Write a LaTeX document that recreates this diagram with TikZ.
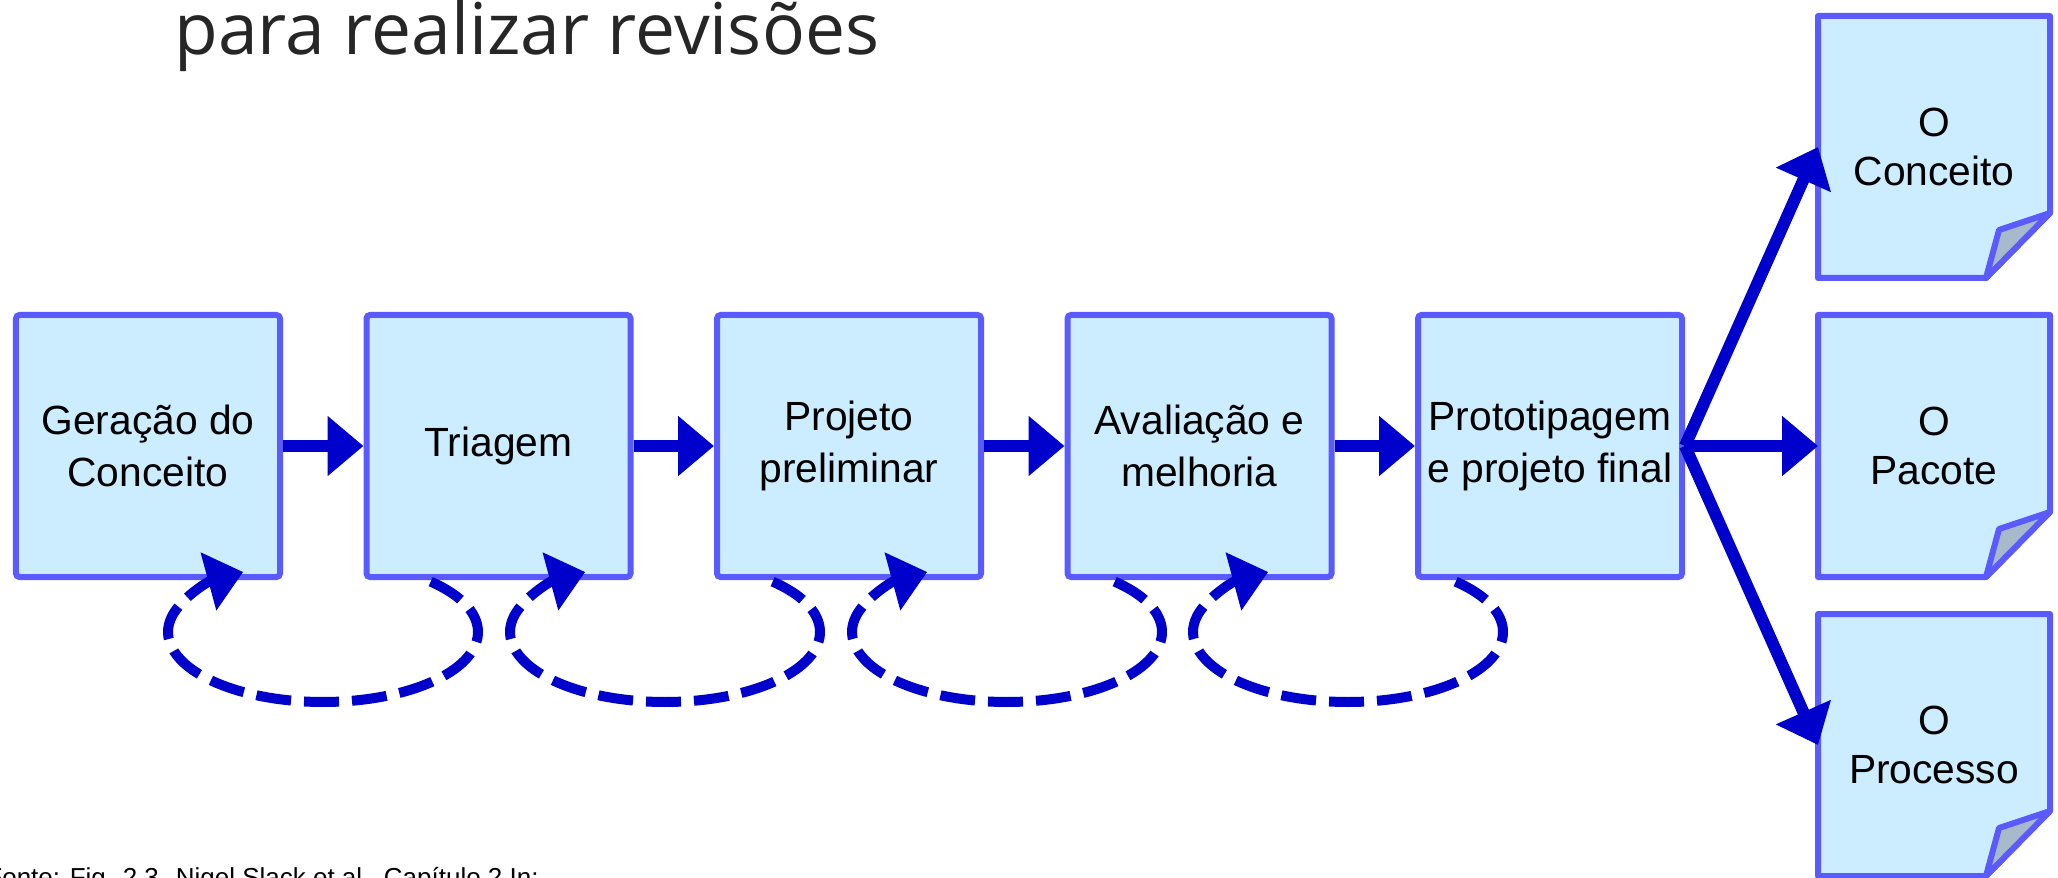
\documentclass[tikz,border=0pt]{standalone}
\usepackage{fontspec}
\setmainfont{Liberation Sans}
\newfontfamily\titlefont{Open Sans}
\usetikzlibrary{positioning,calc,arrows.meta,backgrounds}

\definecolor{boxfill}{RGB}{204,236,255}
\definecolor{boxline}{RGB}{90,90,255}
\definecolor{arrowblue}{RGB}{0,0,204}
\definecolor{foldgray}{RGB}{166,186,204}
\definecolor{titlegray}{RGB}{38,38,38}

\begin{document}
\begin{tikzpicture}[
  stage/.style={draw=boxline, fill=boxfill, line width=0.06cm, minimum width=2.64cm,
    minimum height=2.62cm, inner sep=0pt, align=center, rounded corners=1pt,
    font=\fontsize{11.6}{14.8}\selectfont},
  doc/.style={minimum width=2.32cm, minimum height=2.62cm, inner sep=0pt, outer sep=0pt,
    align=center, font=\fontsize{11.6}{14}\selectfont},
  docline/.style={draw=boxline, fill=boxfill, line width=0.06cm, line join=round},
  flow/.style={draw=arrowblue, line width=0.12cm, -{Triangle[length=0.36cm,width=0.58cm]}},
  redo/.style={flow, line width=0.1cm, dash pattern=on 0.35cm off 0.13cm}
]
  \def\gap{0.805cm} % space between two stages
  \def\rx{1.55} % loop radii
  \def\ry{0.7}
  \useasboundingbox (0,0) rectangle (20.58,-8.78);

  % title
  \node[anchor=base west, text=titlegray, font=\titlefont\fontsize{20.3}{24}\selectfont]
    (title) at (1.62,-0.55) {para realizar revisões};

  % the five stages
  \node[stage] (gen) at (1.48,-4.46) {Geração do\\Conceito};
  \node[stage, right=\gap of gen] (tri) {Triagem};
  \node[stage, right=\gap of tri] (pre) {Projeto\\preliminar};
  \node[stage, right=\gap of pre] (ava) {Avaliação e\\melhoria};
  \node[stage, right=\gap of ava] (pro) {Prototipagem\\e projeto final};

  % the three outputs
  \node[doc, right=1.33cm of pro] (pac) {O\\Pacote};
  \node[doc, above=0.37cm of pac] (con) {O\\Conceito};
  \node[doc, below=0.37cm of pac] (prc) {O\\Processo};
  \begin{pgfonlayer}{background}
    \foreach \d in {con,pac,prc} {
      \filldraw[docline] (\d.north west) -- (\d.north east) -- ([yshift=0.65cm]\d.south east)
        -- ([xshift=-0.64cm]\d.south east) -- (\d.south west) -- cycle;
      \filldraw[docline, fill=foldgray] ([yshift=0.65cm]\d.south east)
        -- ([xshift=-0.51cm,yshift=0.48cm]\d.south east) -- ([xshift=-0.64cm]\d.south east) -- cycle;
    }
  \end{pgfonlayer}

  % forward flow
  \foreach \a/\b in {gen/tri,tri/pre,pre/ava,ava/pro}
    \draw[flow] (\a) -- (\b);
  \foreach \d in {con,pac,prc}
    \draw[flow] (pro.east) -- (\d.west);

  % revision loops
  \foreach \x [count=\i] in {3.23,6.65,10.07,13.48} {
    \coordinate (c\i) at (\x,-6.32);
    \draw[redo] ($(c\i)+(46:\rx cm and \ry cm)$)
      arc[start angle=46, end angle=-239, x radius=\rx cm, y radius=\ry cm];
  }

  % source
  \node[anchor=base west, font=\fontsize{7.4}{9}\selectfont] (src) at (-0.26,-8.86)
    {Fonte: Fig. 2.3. Nigel Slack et al., Capítulo 2 In:};
\end{tikzpicture}
\end{document}
